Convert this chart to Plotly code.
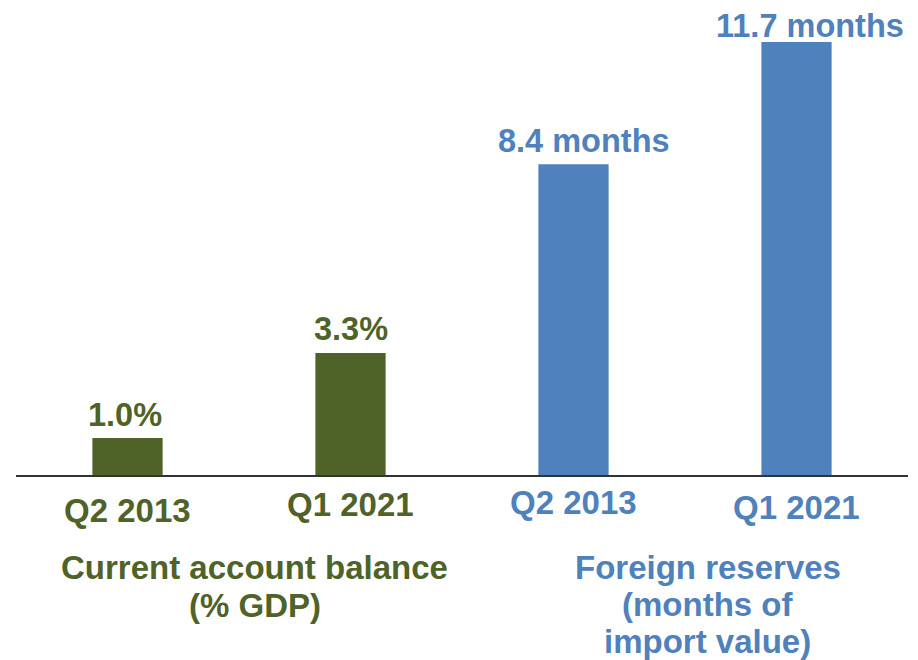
import plotly.graph_objects as go

categories = ["Q2 2013", "Q1 2021", "Q2 2013", "Q1 2021"]
values = [1.0, 3.3, 8.4, 11.7]
value_labels = ["1.0%", "3.3%", "8.4 months", "11.7 months"]
GREEN = "#4F6228"
BLUE = "#4F81BD"
bar_colors = [GREEN, GREEN, BLUE, BLUE]
group_lines_1 = ["Current account balance", "(% GDP)"]
group_lines_2 = ["Foreign reserves", "(months of", "import value)"]

FONT = "Liberation Sans, Arial, sans-serif"
FS_VAL = 32.5
FS_LAB = 33

x = list(range(len(categories)))

fig = go.Figure()
fig.add_trace(go.Bar(
    x=x, y=values,
    marker=dict(color=bar_colors, line=dict(width=0)),
    cliponaxis=False, width=0.315, hoverinfo="x+y",
))

annotations = []
# value labels above bars
val_xshift = [-3, 0.5, 10, 13]
val_yshift = [23, 23.5, 23, 16.5]
for i, (v, lab, col) in enumerate(zip(values, value_labels, bar_colors)):
    annotations.append(dict(x=i, y=v, xref="x", yref="y", text=f"<b>{lab}</b>",
                            showarrow=False, yanchor="middle",
                            xshift=val_xshift[i], yshift=val_yshift[i],
                            font=dict(family=FONT, size=FS_VAL, color=col)))
# category labels
tick_shift = [-35, -29.5, -27.5, -32.5]
for i, (c, col) in enumerate(zip(categories, bar_colors)):
    annotations.append(dict(x=i, y=0, xref="x", yref="y", text=f"<b>{c}</b>",
                            showarrow=False, yanchor="middle", yshift=tick_shift[i],
                            font=dict(family=FONT, size=FS_LAB, color=col)))
# group labels
for j, line in enumerate(group_lines_1):
    annotations.append(dict(x=0.5695, y=0, xref="x", yref="y", text=f"<b>{line}</b>",
                            showarrow=False, yanchor="middle", yshift=-92 - 38 * j,
                            font=dict(family=FONT, size=FS_LAB, color=GREEN)))
for j, line in enumerate(group_lines_2):
    annotations.append(dict(x=2.601, y=0, xref="x", yref="y", text=f"<b>{line}</b>",
                            showarrow=False, yanchor="middle", yshift=-92 - 37 * j,
                            font=dict(family=FONT, size=FS_LAB, color=BLUE)))

fig.update_layout(
    width=918, height=660,
    margin=dict(l=8, r=18, t=0, b=193),
    plot_bgcolor="white", paper_bgcolor="white",
    showlegend=False,
    annotations=annotations,
    font=dict(family=FONT),
)
fig.update_xaxes(range=[-0.5, 3.5], showticklabels=False, showgrid=False,
                 showline=True, linecolor="#333333", linewidth=2, ticks="")
fig.update_yaxes(range=[0, 12.62], visible=False, showgrid=False, zeroline=False)

fig.write_html("out.html")
